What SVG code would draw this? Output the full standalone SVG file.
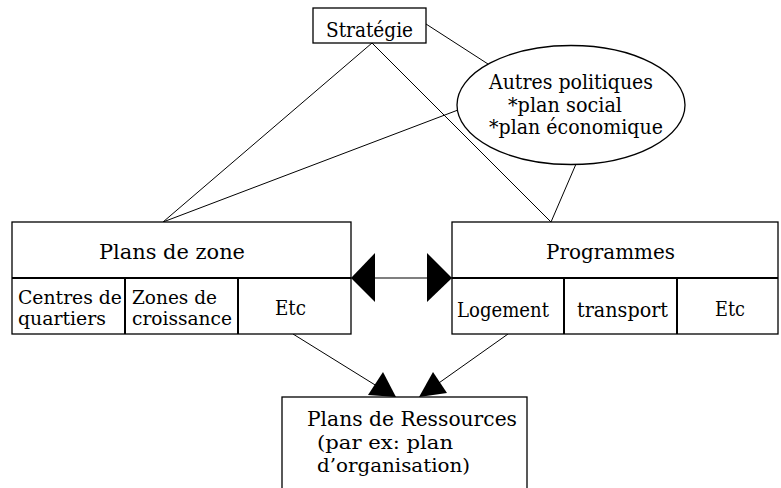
<svg xmlns="http://www.w3.org/2000/svg" width="781" height="488" viewBox="0 0 781 488">
  <style>
    .box { fill: #fff; stroke: #000; stroke-width: 1.3; }
    .div { stroke: #000; stroke-width: 2; fill: none; }
    .ln { stroke: #000; stroke-width: 1; fill: none; }
    .head { fill: #000; stroke: none; }
    text { font-family: "DejaVu Serif", serif; font-size: 19.5px; fill: #000; }
    .sm { font-size: 18px; }
  </style>
  <rect width="781" height="488" fill="#fff"/>

  <!-- connectors -->
  <g id="connectors">
    <line class="ln" x1="372" y1="43" x2="163" y2="222"/>
    <line class="ln" x1="372" y1="43" x2="551" y2="222"/>
    <line class="ln" x1="426" y1="24" x2="488" y2="64"/>
    <line class="ln" x1="458" y1="110" x2="163" y2="222"/>
    <line class="ln" x1="576" y1="164" x2="551" y2="222"/>
    <line x1="351" y1="278" x2="452" y2="278" stroke="#555" stroke-width="1.3"/>
    <polygon class="head" points="351,278 375,253 375,302"/>
    <polygon class="head" points="452,278 427,253 427,302"/>
    <line class="ln" x1="293" y1="334" x2="380" y2="388"/>
    <polygon class="head" points="396,397 368,395 383,372"/>
    <line class="ln" x1="508" y1="334" x2="436" y2="385"/>
    <polygon class="head" points="419,397 447,393 433,372"/>
  </g>

  <g id="strategie">
    <rect class="box" x="313" y="8" width="113" height="35"/>
    <text x="326" y="37" textLength="87" lengthAdjust="spacingAndGlyphs">Stratégie</text>
  </g>

  <g id="autres-politiques">
    <ellipse cx="571" cy="105" rx="114" ry="59.5" fill="#fff" stroke="#000" stroke-width="1.3"/>
    <text x="489" y="89" textLength="164" lengthAdjust="spacingAndGlyphs">Autres politiques</text>
    <text x="508" y="111.5" textLength="114" lengthAdjust="spacingAndGlyphs">*plan social</text>
    <text x="489" y="134" textLength="174" lengthAdjust="spacingAndGlyphs">*plan économique</text>
  </g>

  <g id="plans-de-zone">
    <rect class="box" x="12" y="222" width="339" height="112"/>
    <line class="div" x1="12" y1="278" x2="351" y2="278"/>
    <line class="div" x1="125" y1="278" x2="125" y2="334"/>
    <line class="div" x1="238" y1="278" x2="238" y2="334"/>
    <text x="99" y="258.5" textLength="146" lengthAdjust="spacingAndGlyphs">Plans de zone</text>
    <text class="sm" x="18" y="304" textLength="104" lengthAdjust="spacingAndGlyphs">Centres de</text>
    <text class="sm" x="18" y="325" textLength="88" lengthAdjust="spacingAndGlyphs">quartiers</text>
    <text class="sm" x="132" y="304" textLength="85" lengthAdjust="spacingAndGlyphs">Zones de</text>
    <text class="sm" x="132" y="325" textLength="100" lengthAdjust="spacingAndGlyphs">croissance</text>
    <text x="275" y="315" textLength="31" lengthAdjust="spacingAndGlyphs">Etc</text>
  </g>

  <g id="programmes">
    <rect class="box" x="452" y="222" width="326" height="112"/>
    <line class="div" x1="452" y1="278" x2="778" y2="278"/>
    <line class="div" x1="564" y1="278" x2="564" y2="334"/>
    <line class="div" x1="677" y1="278" x2="677" y2="334"/>
    <text x="546" y="258.5" textLength="129" lengthAdjust="spacingAndGlyphs">Programmes</text>
    <text x="457" y="316.5" textLength="92" lengthAdjust="spacingAndGlyphs">Logement</text>
    <text x="577" y="316.5" textLength="91" lengthAdjust="spacingAndGlyphs">transport</text>
    <text x="715" y="316" textLength="30" lengthAdjust="spacingAndGlyphs">Etc</text>
  </g>

  <g id="plans-de-ressources">
    <rect class="box" x="282" y="397" width="245" height="95"/>
    <text x="307" y="426" textLength="210" lengthAdjust="spacingAndGlyphs">Plans de Ressources</text>
    <text class="sm" x="317" y="448.5" textLength="136" lengthAdjust="spacingAndGlyphs">(par ex: plan</text>
    <text class="sm" x="317" y="472" textLength="153" lengthAdjust="spacingAndGlyphs">d’organisation)</text>
  </g>
</svg>
